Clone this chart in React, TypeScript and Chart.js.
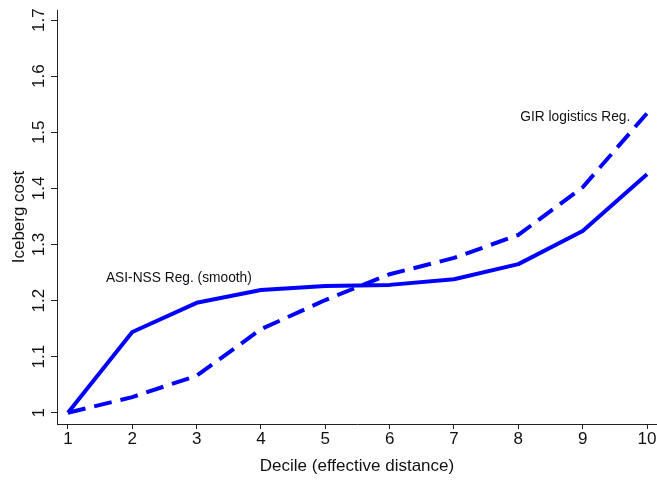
import React, { useEffect, useRef } from "react";
import { Chart, registerables } from "chart.js";

Chart.register(...registerables);

const deciles = [1, 2, 3, 4, 5, 6, 7, 8, 9, 10];
const asiNssValues = [1.0, 1.144, 1.196, 1.219, 1.226, 1.228, 1.238, 1.265, 1.324, 1.425];
const girValues = [1.0, 1.028, 1.066, 1.149, 1.201, 1.247, 1.276, 1.317, 1.402, 1.534];
const xTickValues = [1, 2, 3, 4, 5, 6, 7, 8, 9, 10];
const yTickValues = [1, 1.1, 1.2, 1.3, 1.4, 1.5, 1.6, 1.7];
const yTickLabels = ["1", "1.1", "1.2", "1.3", "1.4", "1.5", "1.6", "1.7"];
const annotationTexts = ["ASI-NSS Reg. (smooth)", "GIR logistics Reg."];
const annotationX = [1.59, 8.03];
const annotationY = [1.24, 1.527];

const FONT = "'Liberation Sans', Arial, Helvetica, sans-serif";
const AXIS_FONT_SIZE = 17;

const textPlugin = {
  id: "textPlugin",
  afterDraw(chart: any) {
    const ctx = chart.ctx;
    const xs = chart.scales.x;
    const ys = chart.scales.y;
    ctx.save();
    ctx.fillStyle = "#111";
    ctx.font = `${AXIS_FONT_SIZE}px ${FONT}`;
    ctx.textAlign = "center";
    ctx.textBaseline = "alphabetic";
    yTickValues.forEach((v, i) => {
      const py = ys.getPixelForValue(v);
      ctx.save();
      ctx.translate(44, py);
      ctx.rotate(-Math.PI / 2);
      ctx.fillText(yTickLabels[i], 0, 0);
      ctx.restore();
    });
    ctx.font = `13.75px ${FONT}`;
    ctx.textAlign = "left";
    ctx.textBaseline = "middle";
    annotationTexts.forEach((t, i) => {
      ctx.fillText(t, xs.getPixelForValue(annotationX[i]), ys.getPixelForValue(annotationY[i]));
    });
    ctx.restore();
  },
};

export default function App() {
  const ref = useRef<HTMLCanvasElement | null>(null);
  useEffect(() => {
    if (!ref.current) return;
    const chart = new Chart(ref.current, {
      type: "line",
      data: {
        datasets: [
          {
            label: "ASI-NSS Reg. (smooth)",
            data: deciles.map((d, i) => ({ x: d, y: asiNssValues[i] })),
            borderColor: "#0000ff",
            borderWidth: 4,
            pointRadius: 0,
            tension: 0,
            borderJoinStyle: "round",
            fill: false,
          },
          {
            label: "GIR logistics Reg.",
            data: deciles.map((d, i) => ({ x: d, y: girValues[i] })),
            borderColor: "#0000ff",
            borderWidth: 4,
            borderDash: [18, 9],
            pointRadius: 0,
            tension: 0,
            fill: false,
          },
        ],
      },
      options: {
        responsive: false,
        animation: false,
        layout: { padding: { top: 10, right: 0, left: 0, bottom: 0 } },
        plugins: { legend: { display: false }, tooltip: { enabled: false } },
        scales: {
          x: {
            type: "linear",
            min: 0.83,
            max: 10.155,
            afterBuildTicks: (s: any) => {
              s.ticks = xTickValues.map((v) => ({ value: v }));
            },
            afterFit: (s: any) => {
              s.height = 60;
            },
            ticks: {
              font: { family: FONT, size: AXIS_FONT_SIZE },
              color: "#111",
              padding: 0,
              maxRotation: 0,
              callback: (v: any) => String(v),
            },
            grid: { drawOnChartArea: false, drawTicks: true, tickLength: 5, color: "#222" },
            border: { display: true, color: "#222", width: 1 },
            title: {
              display: true,
              text: "Decile (effective distance)",
              font: { family: FONT, size: AXIS_FONT_SIZE },
              color: "#111",
              padding: { top: 0, bottom: 7 },
            },
          },
          y: {
            type: "linear",
            min: 0.98,
            max: 1.718,
            afterBuildTicks: (s: any) => {
              s.ticks = yTickValues.map((v) => ({ value: v }));
            },
            afterFit: (s: any) => {
              s.width = 57;
            },
            ticks: { display: false },
            grid: { drawOnChartArea: false, drawTicks: true, tickLength: 6, color: "#222" },
            border: { display: true, color: "#222", width: 1 },
            title: {
              display: true,
              text: "Iceberg cost",
              font: { family: FONT, size: AXIS_FONT_SIZE },
              color: "#111",
              padding: { top: 9, bottom: 0 },
            },
          },
        },
      },
      plugins: [textPlugin],
    });
    return () => chart.destroy();
  }, []);
  return (
    <div style={{ position: "absolute", left: 0, top: 0, width: 657, height: 484, background: "#fff" }}>
      <canvas ref={ref} width={657} height={484} />
    </div>
  );
}
